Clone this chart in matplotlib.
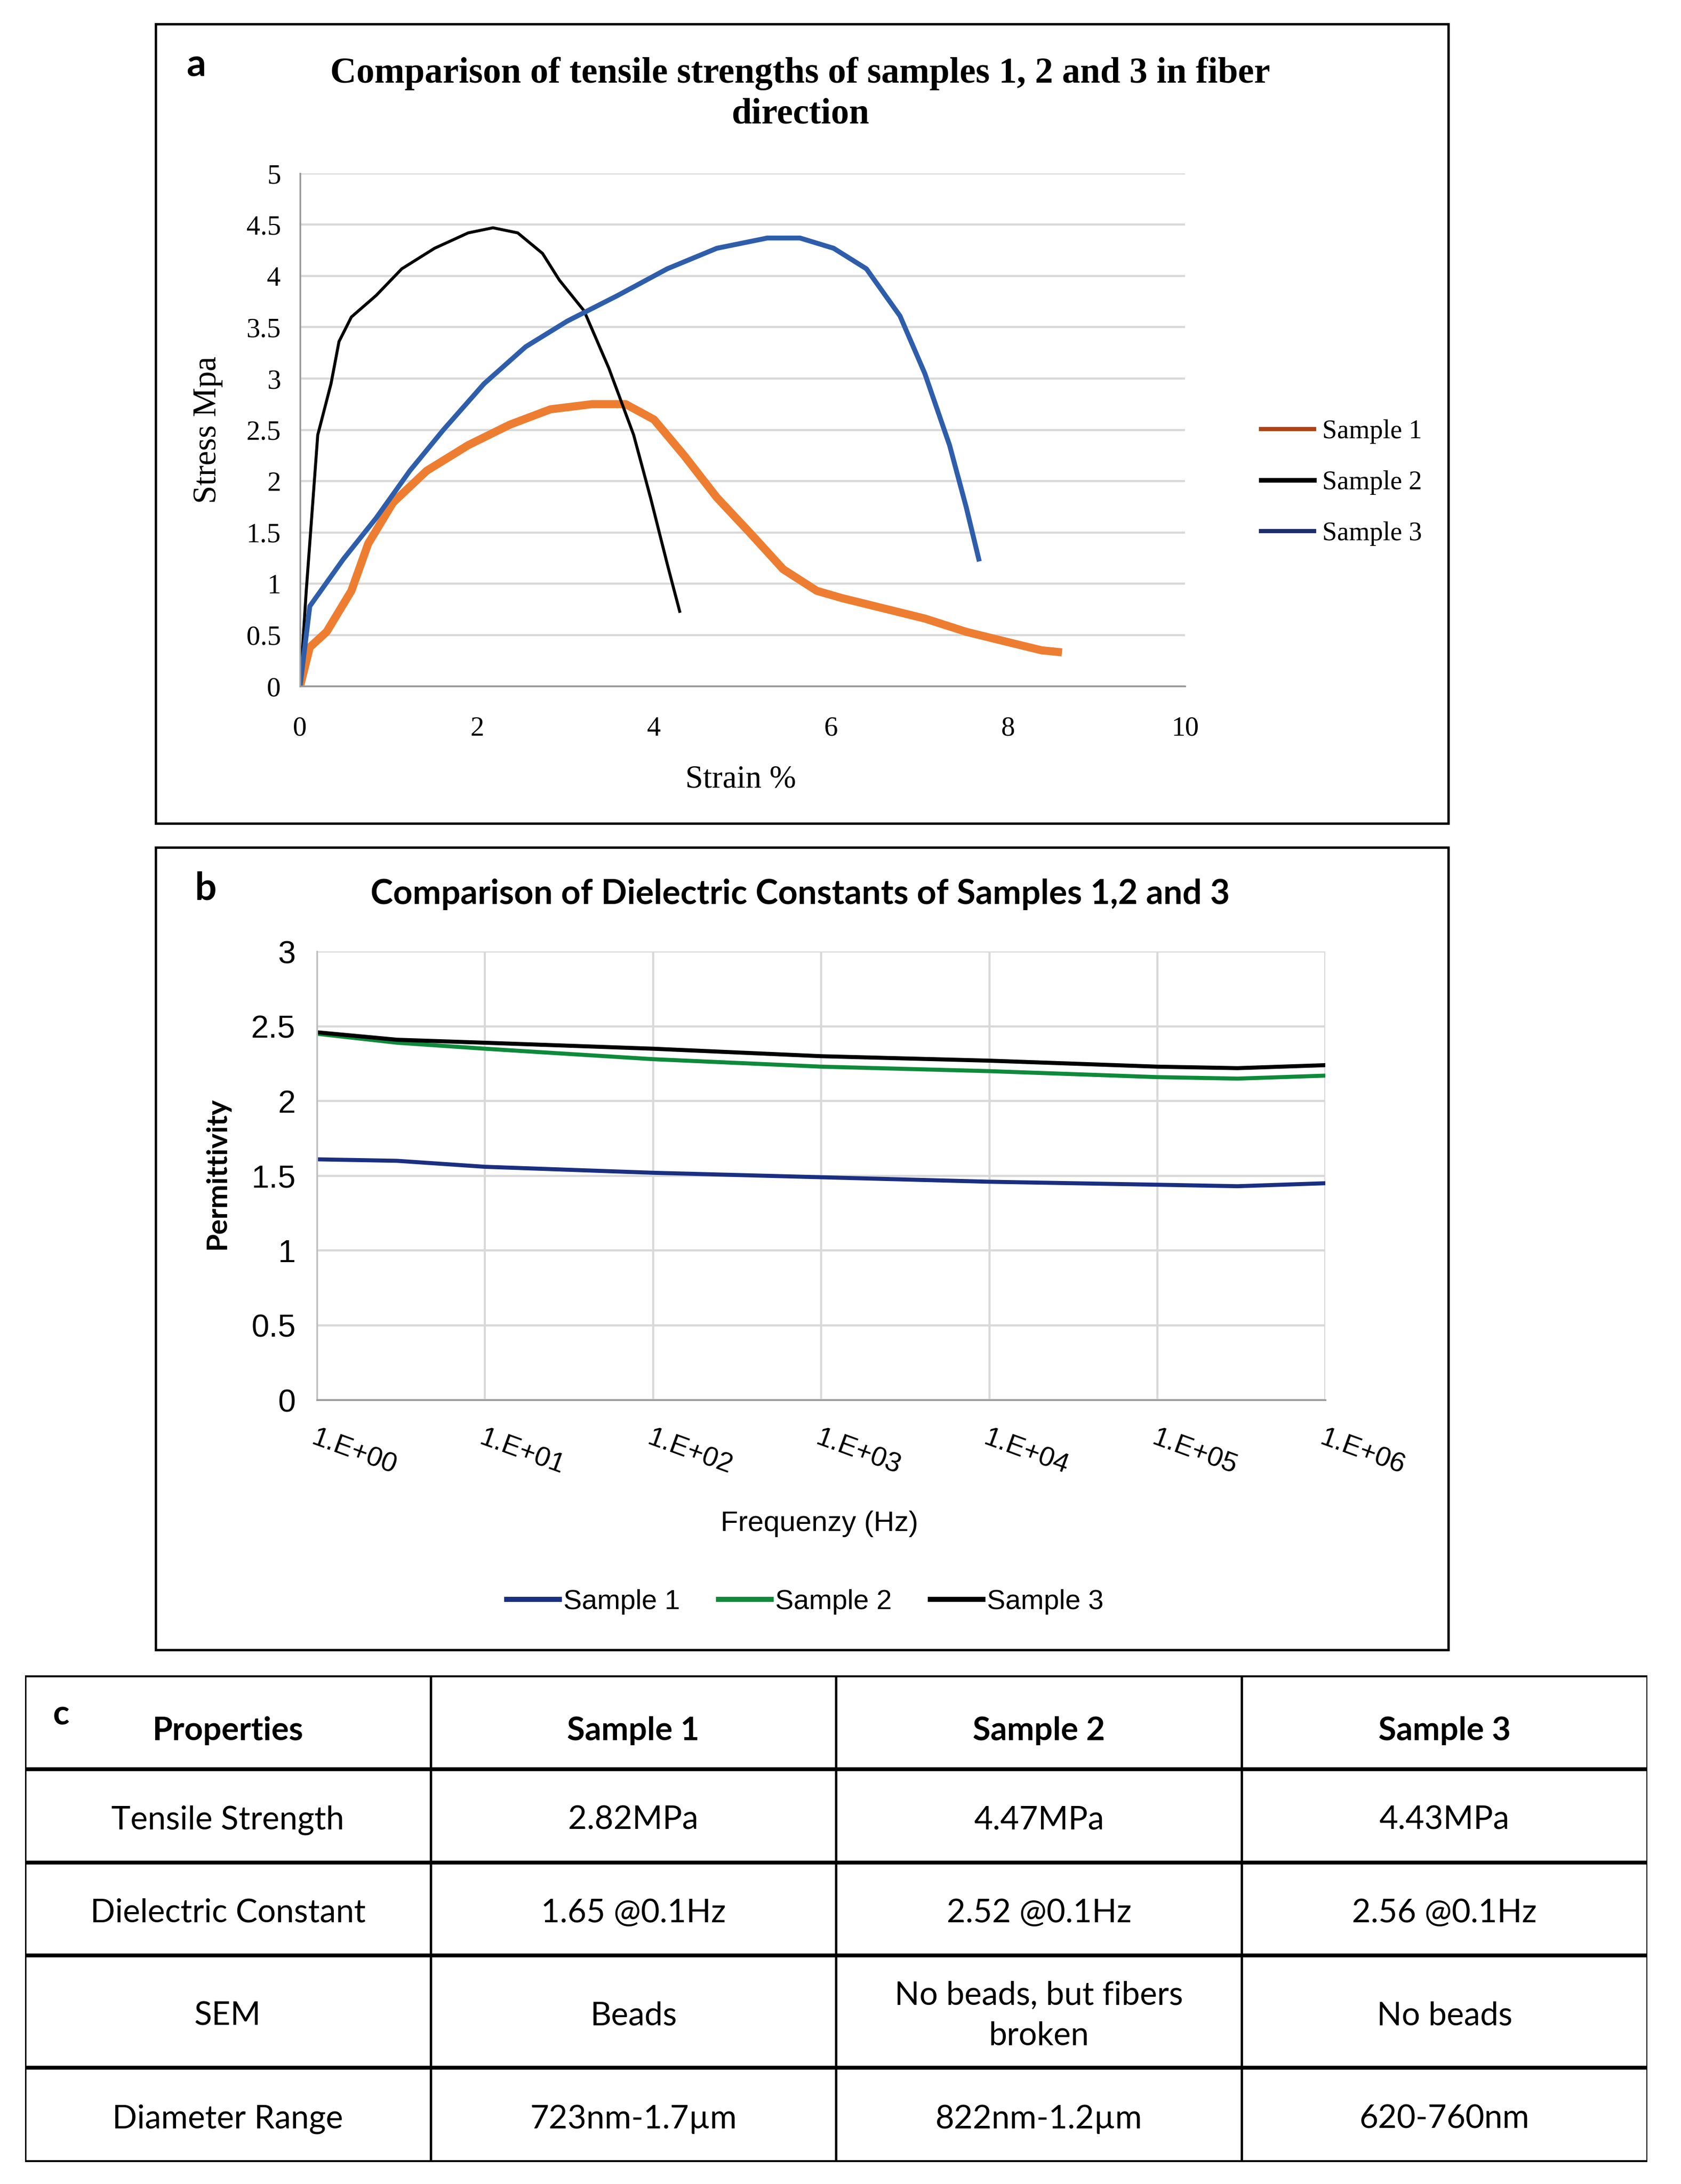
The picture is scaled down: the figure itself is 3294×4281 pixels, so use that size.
import matplotlib
matplotlib.use("Agg")
import matplotlib.pyplot as plt
from matplotlib.lines import Line2D
from matplotlib.patches import Rectangle

# ---- panel a: tensile test (strain %, stress MPa) ----
s1_strain = [0, 0.11, 0.3, 0.58, 0.77, 1.05, 1.43, 1.9, 2.37, 2.83, 3.3, 3.68, 4.0,
             4.34, 4.71, 5.09, 5.46, 5.84, 6.12, 6.59, 7.06, 7.53, 8.0, 8.38, 8.61]
s1_stress = [0, 0.38, 0.53, 0.93, 1.39, 1.79, 2.1, 2.35, 2.55, 2.7, 2.75, 2.75, 2.6,
             2.25, 1.84, 1.49, 1.14, 0.93, 0.86, 0.76, 0.66, 0.53, 0.43, 0.35, 0.33]
s2_strain = [0, 0.07, 0.2, 0.35, 0.44, 0.58, 0.86, 1.15, 1.52, 1.9, 2.18, 2.46, 2.74,
             2.93, 3.21, 3.49, 3.77, 3.96, 4.15, 4.29]
s2_stress = [0, 0.93, 2.45, 2.95, 3.36, 3.6, 3.81, 4.07, 4.27, 4.42, 4.47, 4.42, 4.22,
             3.96, 3.66, 3.1, 2.45, 1.84, 1.19, 0.73]
s3_strain = [0, 0.11, 0.49, 0.86, 1.24, 1.62, 2.08, 2.55, 3.02, 3.59, 4.15, 4.71, 5.28,
             5.65, 6.03, 6.4, 6.78, 7.06, 7.34, 7.53, 7.67]
s3_stress = [0, 0.78, 1.24, 1.64, 2.1, 2.5, 2.95, 3.31, 3.56, 3.81, 4.07, 4.27, 4.37,
             4.37, 4.27, 4.07, 3.61, 3.05, 2.35, 1.74, 1.24]

# ---- panel b: permittivity vs frequency ----
freq = [1, 3, 10, 100, 1e3, 1e4, 1e5, 3e5, 1e6]
perm_s1 = [1.61, 1.60, 1.56, 1.52, 1.49, 1.46, 1.44, 1.43, 1.45]
perm_s2 = [2.45, 2.39, 2.35, 2.28, 2.23, 2.20, 2.16, 2.15, 2.17]
perm_s3 = [2.46, 2.41, 2.39, 2.35, 2.30, 2.27, 2.23, 2.22, 2.24]
freq_ticks = [1, 10, 100, 1e3, 1e4, 1e5, 1e6]
freq_labels = ["1.E+00", "1.E+01", "1.E+02", "1.E+03", "1.E+04", "1.E+05", "1.E+06"]

# ---- panel c: table ----
col_headers = ["Properties", "Sample 1", "Sample 2", "Sample 3"]
row_names = ["Tensile Strength", "Dielectric Constant", "SEM", "Diameter Range"]
sample1_vals = ["2.82MPa", "1.65 @0.1Hz", "Beads", "723nm-1.7\u00b5m"]
sample2_vals = ["4.47MPa", "2.52 @0.1Hz", "No beads, but fibers\nbroken", "822nm-1.2\u00b5m"]
sample3_vals = ["4.43MPa", "2.56 @0.1Hz", "No beads", "620-760nm"]

serif = ["Liberation Serif", "DejaVu Serif"]
narrow = ["Liberation Sans Narrow", "Liberation Sans", "DejaVu Sans"]
sans = ["Lato", "DejaVu Sans"]

fig = plt.figure(figsize=(10.98, 14.27), dpi=300)

# panel frames
for (x0, y0, w, h) in [(0.0926, 0.623, 0.769, 0.366), (0.0926, 0.2445, 0.769, 0.3675)]:
    fig.patches.append(Rectangle((x0, y0), w, h, transform=fig.transFigure,
                                 fill=False, edgecolor="black", lw=1.1))

# ---------- a ----------
axa = fig.add_axes([0.1785, 0.6858, 0.5264, 0.2348])
axa.plot(s1_strain, s1_stress, color="#ED7D31", lw=3.8, solid_capstyle="butt")
axa.plot(s2_strain, s2_stress, color="black", lw=1.4)
axa.plot(s3_strain, s3_stress, color="#2E5EAA", lw=2.3)
axa.set_xlim(0, 10)
axa.set_ylim(0, 5)
axa.set_xticks([0, 2, 4, 6, 8, 10])
axa.set_yticks([0, 0.5, 1, 1.5, 2, 2.5, 3, 3.5, 4, 4.5, 5])
axa.set_yticklabels(["0", "0.5", "1", "1.5", "2", "2.5", "3", "3.5", "4", "4.5", "5"])
axa.grid(axis="y", color="#d9d9d9", lw=1.0)
axa.set_axisbelow(True)
for sp in ["top", "right"]:
    axa.spines[sp].set_visible(False)
axa.spines["left"].set_color("#999999")
axa.spines["bottom"].set_color("#999999")
axa.tick_params(axis="y", length=0, labelsize=13, pad=9)
axa.tick_params(axis="x", length=0, labelsize=13, pad=14)
for lab in axa.get_xticklabels() + axa.get_yticklabels():
    lab.set_family(serif)
axa.set_xlabel("Strain %", family=serif, fontsize=15)
axa.set_ylabel("Stress Mpa", family=serif, fontsize=15.5)
axa.xaxis.set_label_coords(0.498, -0.154)
axa.yaxis.set_label_coords(-0.087, 0.5)
handles_a = [Line2D([], [], color="#B5400F", lw=2.0),
             Line2D([], [], color="black", lw=2.2),
             Line2D([], [], color="#1F2D6B", lw=2.0)]
axa.legend(handles_a, ["Sample 1", "Sample 2", "Sample 3"], loc="center left",
           bbox_to_anchor=(0.736, 0.779), bbox_transform=fig.transFigure,
           frameon=False, prop={"family": serif, "size": 12.5}, handlelength=2.0,
           handletextpad=0.3, labelspacing=1.0)
fig.text(0.476, 0.957, "Comparison of tensile strengths of samples 1, 2 and 3 in fiber\ndirection",
         ha="center", va="center", family=serif, fontweight="bold", fontsize=17,
         linespacing=1.3)
fig.text(0.1166, 0.970, "a", ha="center", va="center", family=sans,
         fontweight="bold", fontsize=18)

# ---------- b ----------
axb = fig.add_axes([0.1885, 0.359, 0.600, 0.2053])
axb.plot(freq, perm_s1, color="#1A2F80", lw=1.9)
axb.plot(freq, perm_s2, color="#0E8A3A", lw=1.9)
axb.plot(freq, perm_s3, color="black", lw=1.9)
axb.set_xscale("log")
axb.set_xlim(1, 1e6)
axb.set_ylim(0, 3)
axb.set_xticks(freq_ticks)
axb.set_xticklabels(freq_labels)
axb.minorticks_off()
axb.set_yticks([0, 0.5, 1, 1.5, 2, 2.5, 3])
axb.set_yticklabels(["0", "0.5", "1", "1.5", "2", "2.5", "3"])
axb.grid(True, color="#d9d9d9", lw=1.0)
axb.set_axisbelow(True)
for sp in ["top", "right"]:
    axb.spines[sp].set_visible(False)
axb.spines["left"].set_color("#bfbfbf")
axb.spines["bottom"].set_color("#999999")
axb.tick_params(axis="y", length=0, labelsize=15, pad=10)
axb.tick_params(axis="x", length=0, labelsize=13, pad=12)
for lab in axb.get_yticklabels():
    lab.set_family(narrow)
for lab in axb.get_xticklabels():
    lab.set_family(narrow)
    lab.set_rotation(-20)
    lab.set_ha("left")
    lab.set_va("top")
    lab.set_rotation_mode("anchor")
axb.set_xlabel("Frequenzy (Hz)", family=narrow, fontsize=13.5)
axb.set_ylabel("Permittivity", family=sans, fontweight="bold", fontsize=13.5)
axb.xaxis.set_label_coords(0.498, -0.247)
axb.yaxis.set_label_coords(-0.086, 0.505)
handles_b = [Line2D([], [], color="#1A2F80", lw=2.4),
             Line2D([], [], color="#0E8A3A", lw=2.4),
             Line2D([], [], color="black", lw=2.4)]
axb.legend(handles_b, ["Sample 1", "Sample 2", "Sample 3"], loc="center", ncol=3,
           bbox_to_anchor=(0.479, 0.2665), bbox_transform=fig.transFigure,
           frameon=False, prop={"family": narrow, "size": 13}, handlelength=1.9,
           handletextpad=0.15, columnspacing=1.4)
fig.text(0.476, 0.5905, "Comparison of Dielectric Constants of Samples 1,2 and 3",
         ha="center", va="center", family=sans, fontweight="bold", fontsize=16)
fig.text(0.1223, 0.593, "b", ha="center", va="center", family=sans,
         fontweight="bold", fontsize=18)

# ---------- c ----------
axc = fig.add_axes([0.0149, 0.0100, 0.965, 0.223])
row_heights = [68, 67, 67, 81, 68]
total = sum(row_heights)
axc.set_xlim(0, 4)
axc.set_ylim(total, 0)
axc.axis("off")
edges = [0]
for h in row_heights:
    edges.append(edges[-1] + h)
for y in edges:
    axc.plot([0, 4], [y, y], color="black", lw=1.8, solid_capstyle="butt")
for x in range(5):
    axc.plot([x, x], [0, total], color="black", lw=1.1)
body = list(zip(row_names, sample1_vals, sample2_vals, sample3_vals))
for j, txt in enumerate(col_headers):
    axc.text(j + 0.5, (edges[0] + edges[1]) / 2 + 6, txt, ha="center", va="center",
             family=sans, fontweight="bold", fontsize=15.3)
for i, row in enumerate(body):
    yc = (edges[i + 1] + edges[i + 2]) / 2 + 3
    for j, txt in enumerate(row):
        axc.text(j + 0.5, yc, txt, ha="center", va="center", family=sans,
                 fontsize=15.3, linespacing=1.45)
fig.text(0.0364, 0.2147, "c", ha="center", va="center", family=sans,
         fontweight="bold", fontsize=16)

fig.savefig("out.png", dpi=300)
